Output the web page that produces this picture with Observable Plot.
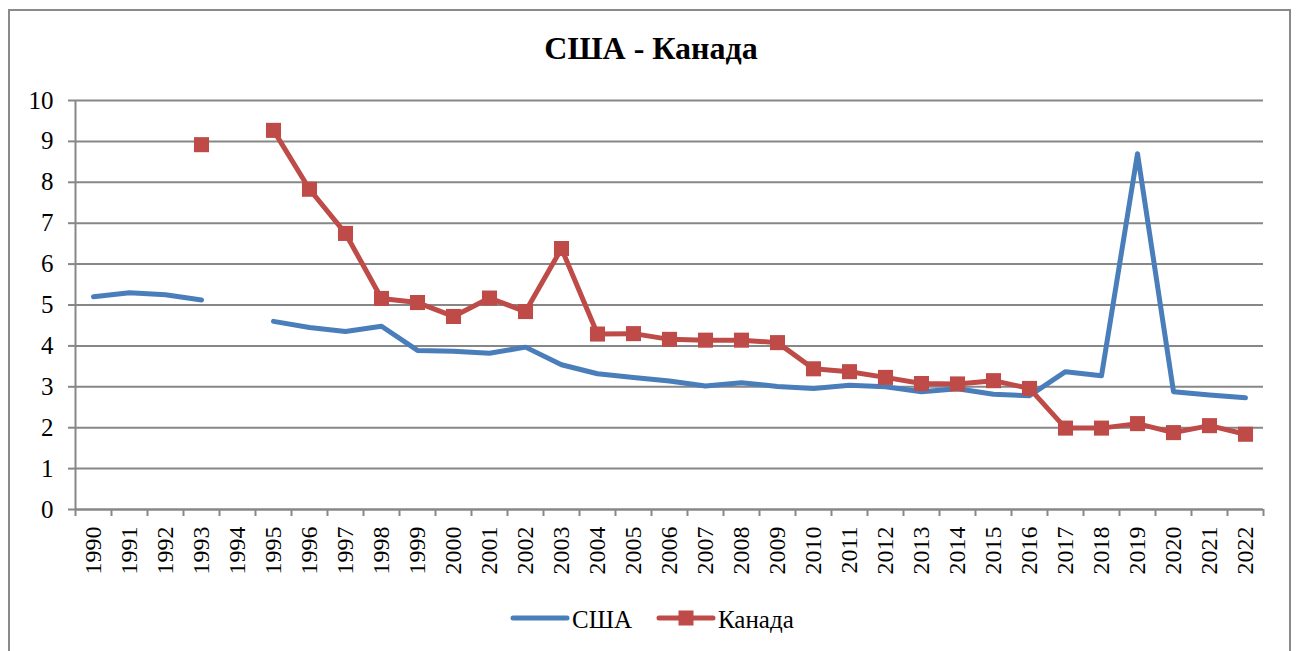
<!DOCTYPE html>
<html>
<head>
<meta charset="utf-8">
<script src="https://cdn.jsdelivr.net/npm/d3@7"></script>
<script src="https://cdn.jsdelivr.net/npm/@observablehq/plot@0.6"></script>
<style>
  html, body { margin: 0; padding: 0; background: #fff; width: 1298px; height: 651px; overflow: hidden; }
  #wrap { position: relative; width: 1298px; height: 651px; font-family: "Liberation Serif", "Times New Roman", serif; }
  #frame { position: absolute; left: 8px; top: 9px; width: 1283px; height: 700px; border: 2px solid #8a8a8a; box-sizing: border-box; }
  #chart { position: absolute; left: 0; top: 0; }
  #chart svg, #chart svg text { font-family: "Liberation Serif", "Times New Roman", serif !important; }
  #title { position: absolute; left: 0; width: 1302px; top: 32px; text-align: center; font-size: 32px; font-weight: bold; line-height: 1; color: #000; }
  .leg { position: absolute; font-size: 25px; line-height: 1; color: #000; top: 607px; }
  .sw { position: absolute; top: 604px; }
</style>
</head>
<body>
<div id="wrap">
  <div id="frame"></div>
  <div id="chart"></div>
  <div id="title"></div>
  <div id="legend"></div>
</div>
<script>
const titleText = "США - Канада";
const seriesNames = ["США", "Канада"];
const years = [1990, 1991, 1992, 1993, 1994, 1995, 1996, 1997, 1998, 1999, 2000, 2001, 2002, 2003, 2004, 2005, 2006, 2007, 2008, 2009, 2010, 2011, 2012, 2013, 2014, 2015, 2016, 2017, 2018, 2019, 2020, 2021, 2022];
const usa = [5.2, 5.3, 5.25, 5.12, null, 4.6, 4.45, 4.35, 4.48, 3.89, 3.87, 3.82, 3.97, 3.54, 3.32, 3.23, 3.14, 3.02, 3.1, 3.01, 2.96, 3.04, 3.0, 2.88, 2.95, 2.82, 2.78, 3.37, 3.27, 8.7, 2.88, 2.8, 2.73];
const canada = [null, null, null, 8.92, null, 9.27, 7.83, 6.75, 5.16, 5.06, 4.72, 5.17, 4.84, 6.38, 4.29, 4.3, 4.16, 4.14, 4.14, 4.08, 3.44, 3.37, 3.23, 3.08, 3.07, 3.15, 2.96, 1.99, 1.99, 2.1, 1.88, 2.05, 1.84];
const yTicks = [0, 1, 2, 3, 4, 5, 6, 7, 8, 9, 10];

const blue = "#4a7ebb";
const red = "#be4b48";
const gray = "#878787";
const serif = "Liberation Serif";

const data = years.map((year, i) => ({year, usa: usa[i], canada: canada[i]}));
const bounds = years.map(y => y - 0.5).concat([years[years.length - 1] + 0.5]);

const chart = Plot.plot({
  width: 1298,
  height: 651,
  marginLeft: 75,
  marginRight: 35,
  marginTop: 100,
  marginBottom: 142,
  x: {domain: [bounds[0], bounds[bounds.length - 1]]},
  y: {domain: [0, 10]},
  style: "font-family: 'Liberation Serif', serif; font-size: 24px; color: black; background: transparent; overflow: visible;",
  marks: [
    Plot.gridY(yTicks, {stroke: gray, strokeOpacity: 1, strokeWidth: 2}),
    Plot.axisY(yTicks, {tickSize: 7, tickPadding: 15, stroke: gray, strokeWidth: 2, fill: "black", label: null, fontSize: 25, fontFamily: serif}),
    Plot.axisX(years, {tickSize: 0, tickPadding: 17, tickRotate: -90, tickFormat: d => String(d), label: null, fill: "black", fontSize: 24, fontFamily: serif}),
    Plot.axisX(bounds, {tickSize: 7, tickFormat: () => "", stroke: gray, strokeWidth: 2, label: null}),
    Plot.ruleX([bounds[0]], {stroke: gray, strokeWidth: 2}),
    Plot.ruleY([0], {stroke: gray, strokeWidth: 2}),
    Plot.line(data, {x: "year", y: "usa", stroke: blue, strokeWidth: 5}),
    Plot.line(data, {x: "year", y: "canada", stroke: red, strokeWidth: 5}),
    Plot.dot(data, {x: "year", y: "canada", symbol: "square", r: 8.5, fill: red, stroke: "none"})
  ]
});
document.getElementById("chart").appendChild(chart);
document.getElementById("title").textContent = titleText;

const legend = document.getElementById("legend");
function swatch(left, color, withSquare) {
  const ns = "http://www.w3.org/2000/svg";
  const svg = document.createElementNS(ns, "svg");
  svg.setAttribute("width", 60);
  svg.setAttribute("height", 30);
  svg.setAttribute("class", "sw");
  svg.style.left = left + "px";
  const line = document.createElementNS(ns, "line");
  line.setAttribute("x1", 3); line.setAttribute("x2", 57);
  line.setAttribute("y1", 14); line.setAttribute("y2", 14);
  line.setAttribute("stroke", color); line.setAttribute("stroke-width", 5);
  line.setAttribute("stroke-linecap", "round");
  svg.appendChild(line);
  if (withSquare) {
    const r = document.createElementNS(ns, "rect");
    r.setAttribute("x", 22.5); r.setAttribute("y", 6.5);
    r.setAttribute("width", 15); r.setAttribute("height", 15);
    r.setAttribute("fill", color);
    svg.appendChild(r);
  }
  legend.appendChild(svg);
}
function label(left, text) {
  const d = document.createElement("div");
  d.className = "leg";
  d.style.left = left + "px";
  d.textContent = text;
  legend.appendChild(d);
}
swatch(510, blue, false);
label(572, seriesNames[0]);
swatch(656, red, true);
label(718, seriesNames[1]);
</script>
</body>
</html>
